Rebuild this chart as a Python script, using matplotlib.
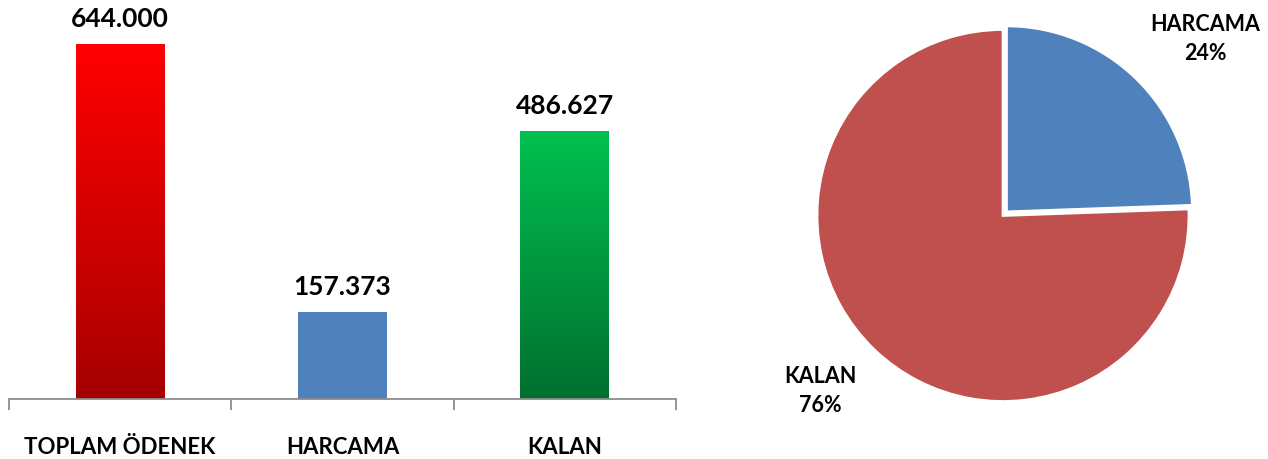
import numpy as np
import matplotlib
matplotlib.use("Agg")
import matplotlib.pyplot as plt
from matplotlib.colors import LinearSegmentedColormap

categories = ["TOPLAM ÖDENEK", "HARCAMA", "KALAN"]
values = [644000, 157373, 486627]
pie_labels = ["HARCAMA", "KALAN"]
pie_values = [157373, 486627]

plt.rcParams['font.family'] = ['Lato', 'DejaVu Sans']

W, H = 1268, 459
fig = plt.figure(figsize=(W / 100, H / 100), dpi=100)

# ---- bar chart ----
ax = fig.add_axes([9 / W, 60 / H, 667 / W, 385.9 / H])
x = np.arange(len(categories))
bars = ax.bar(x, values, width=0.4, color=['none', '#4F81BD', 'none'], edgecolor='none')
ax.set_xlim(-0.5, len(categories) - 0.5)
ax.set_ylim(0, 700000)

grads = {0: ('#A50000', '#FF0000'), 2: ('#00702E', '#00C050')}
for i, (c0, c1) in grads.items():
    b = bars[i]
    cmap = LinearSegmentedColormap.from_list('g%d' % i, [c0, c1])
    grad = np.linspace(0, 1, 256).reshape(-1, 1)
    x0, y0 = b.get_x(), b.get_y()
    im = ax.imshow(grad, extent=[x0, x0 + b.get_width(), y0, y0 + b.get_height()],
                   origin='lower', cmap=cmap, aspect='auto', zorder=2)
    im.set_clip_path(b)

ax.bar_label(bars, labels=[f"{v:,.0f}".replace(',', '.') for v in values],
             padding=9.5, fontsize=19, fontweight='bold', color='#000000')

for s in ['top', 'right', 'left']:
    ax.spines[s].set_visible(False)
ax.spines['bottom'].set_color('#8C8C8C')
ax.spines['bottom'].set_linewidth(1.3)
ax.set_yticks([])
ax.set_xticks(x)
ax.set_xticklabels(categories, fontsize=16, fontweight='bold', color='#000000')
ax.tick_params(axis='x', which='major', length=0, pad=27)
ax.set_xticks(np.arange(-0.5, len(categories), 1.0), minor=True)
ax.tick_params(axis='x', which='minor', length=8, width=1.3, color='#8C8C8C')

# ---- pie chart ----
R = 186.0
side = 420.0
cx, cy = 1003.0, 215.5
pax = fig.add_axes([(cx - side / 2) / W, (H - cy - side / 2) / H, side / W, side / H])
wedges, _ = pax.pie(pie_values, startangle=90, counterclock=False,
                    colors=['#4F81BD', '#C0504D'], explode=[0.027, 0],
                    wedgeprops=dict(edgecolor='white', linewidth=2))
lim = side / 2 / R
pax.set_xlim(-lim, lim)
pax.set_ylim(-lim, lim)
pax.set_aspect('equal')
pax.axis('off')

total = sum(pie_values)
label_pos = [(1205, 39), (820.5, 391)]
for lab, v, (px, py) in zip(pie_labels, pie_values, label_pos):
    pax.text((px - cx) / R, (cy - py) / R, f"{lab}\n{v / total * 100:.0f}%",
             ha='center', va='center', fontsize=15.5, fontweight='bold',
             color='#000000', linespacing=1.5, clip_on=False)

fig.savefig('out.png', dpi=100)
